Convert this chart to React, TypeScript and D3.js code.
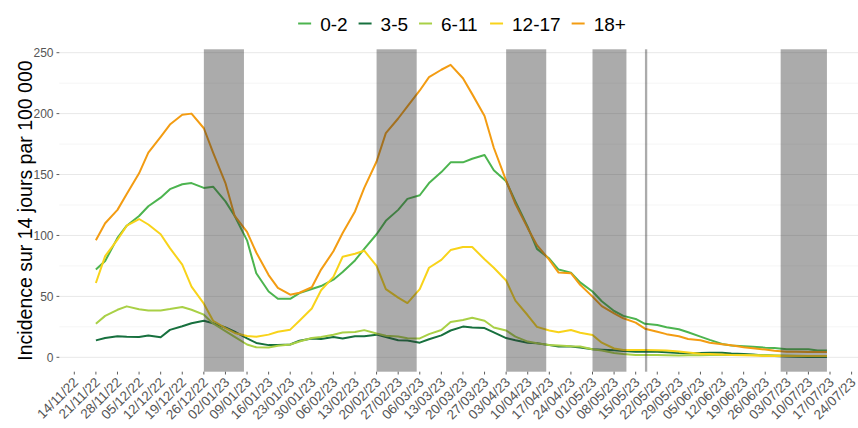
import React from "react";
import * as d3 from "d3";

const dates = [
  "2022-11-21","2022-11-24","2022-11-28","2022-12-01","2022-12-05","2022-12-08","2022-12-12","2022-12-15",
  "2022-12-19","2022-12-22","2022-12-26","2022-12-29","2023-01-02","2023-01-05","2023-01-09","2023-01-12",
  "2023-01-16","2023-01-19","2023-01-23","2023-01-26","2023-01-30","2023-02-02","2023-02-06","2023-02-09",
  "2023-02-13","2023-02-16","2023-02-20","2023-02-23","2023-02-27","2023-03-02","2023-03-06","2023-03-09",
  "2023-03-13","2023-03-16","2023-03-20","2023-03-23","2023-03-27","2023-03-30","2023-04-03","2023-04-06",
  "2023-04-10","2023-04-13","2023-04-17","2023-04-20","2023-04-24","2023-04-27","2023-05-01","2023-05-04",
  "2023-05-08","2023-05-11","2023-05-15","2023-05-18","2023-05-22","2023-05-25","2023-05-29","2023-06-01",
  "2023-06-05","2023-06-08","2023-06-12","2023-06-15","2023-06-19","2023-06-22","2023-06-26","2023-06-29",
  "2023-07-03","2023-07-06","2023-07-10","2023-07-13","2023-07-16"
];

const age0_2 = [
  72,79,98,108,116,124,131,138,142,143,139,140,128,116,96,69,
  54,48,48,52.7,56,58.5,63.7,70,79.5,89,101,112,121,130,133,143,
  152,160,160,163,166,153.5,144.5,128,107,89,81,72,69.5,61.5,54,46,
  38,34,31.5,27.5,26.5,24.6,23,20.5,17,14.3,11,9.7,9,8.6,7.9,7.6,
  6.6,6.6,6.6,5.5,5.5
];
const age3_5 = [
  13.9,15.8,17.2,16.8,16.7,17.8,16.5,22.5,25.5,28,30,28,24.5,21,15.5,11.8,
  10,10,10.5,13.6,15.5,15,16.7,15.5,17.2,17.2,18.6,16.7,14,13.7,12,14.8,
  18,22,25.2,24.4,24,20.4,15.8,14,12,11.5,10,8.8,8.8,8,6.6,6.2,
  5.8,5.2,4.6,4.6,4.6,4.2,3.5,3.3,3.5,3.8,3.8,3.2,2.7,2.2,1.5,1,
  0.6,0.4,0.3,0.2,0.2
];
const age6_11 = [
  27.6,34,39,41.8,39.5,38.5,38.5,39.6,41.3,39,35,27.8,21.5,16.8,10.5,8.2,
  8,9.4,10.5,13,15.8,16.7,18.5,20.3,20.8,22.3,19.5,17.7,17,15.6,15.5,19,
  22.4,29,30.6,32.4,30,24.5,22,17,12.9,11.5,10.1,9.6,9,8.8,6.6,5.5,
  3.5,2.7,1.9,1.9,1.8,1.6,1.5,1.6,1.6,1.8,1.9,1.9,1.9,1.9,1.8,1.6,
  1.4,1.2,1.0,1.0,1.0
];
const age12_17 = [
  61,83,96.5,108,113.5,109,101,89.6,76,58,44,30,24,20,17.5,16.8,
  18.6,21,22.7,30,40,55,66,82.5,85,87.5,75,56,49,44.5,56,73.5,
  80,88,90.5,90.5,80.5,73.5,63,46.5,34.5,25,22,20.5,22.4,20.2,18.3,12,
  7.2,6,6,6,5.8,5.5,4.8,4,3,2.7,2.4,1.9,1.6,1.4,1.1,1.1,
  1.1,1.1,1.1,1.1,1.1
];
const age18p = [
  96,110,121,134,151,168,181,191,199,200,188,168,143,116,103,86,
  67.5,57,51.4,53,57.5,72,87,102,119.7,139,160.7,184,196,206,219,230,
  236,240,229,216,198,172,145,126,106,92,80,69.5,69,59.5,49.8,42,
  36,32,28.5,23.5,21,19,17.3,15,14,12,10.8,9.8,8.3,7.4,6.4,5.4,
  4.6,4.5,4.4,4.4,4.4
];

const seriesNames = ["0-2", "3-5", "6-11", "12-17", "18+"];
const seriesValues = [age0_2, age3_5, age6_11, age12_17, age18p];
const seriesColors = ["#4cb44f", "#17703e", "#a9d046", "#f8d31a", "#f39c12"];

const holidayStarts = ["2022-12-26", "2023-02-20", "2023-04-03", "2023-05-01", "2023-05-18", "2023-07-01"];
const holidayEnds = ["2023-01-08", "2023-03-05", "2023-04-16", "2023-05-12", "2023-05-18T18:00", "2023-07-16"];

const yTicks = [0, 50, 100, 150, 200, 250];
const yMinor = [25, 75, 125, 175, 225];
const tickFirst = "2022-11-14";
const tickLast = "2023-07-24";

const yTitle = "Incidence sur 14 jours par 100 000";

const W = 858, H = 428;
const FONT = "'Liberation Sans', Arial, Helvetica, sans-serif";

const parse = (s: string) => new Date(s.length > 10 ? s + "Z" : s + "T00:00:00Z");

export default function App() {
  const panelTop = 49.3, panelBottom = 371.7, panelLeft = 59.3, panelRight = 858;
  const x = d3.scaleUtc().domain([parse(tickFirst), parse(tickLast)]).range([74.3, 851.6]);
  const y = d3.scaleLinear().domain([0, 250]).range([357.3, 52.7]);
  const parsedDates = dates.map(parse);
  const tickDates = d3.utcMonday.range(parse(tickFirst), d3.utcDay.offset(parse(tickLast), 1));
  const fmt = d3.utcFormat("%d/%m/%y");

  const line = d3.line<number>()
    .x((_, i) => x(parsedDates[i]))
    .y((v) => y(v));

  // legend layout
  const fs = 19;
  const cw: Record<string, number> = { "-": 0.333, "+": 0.584 };
  const tw = (s: string) => s.split("").reduce((a, c) => a + (cw[c] ?? 0.556) * fs, 0);
  const keyLen = 13, gapKT = 9, gapItem = 11;
  const totalW = seriesNames.reduce((a, s) => a + keyLen + gapKT + tw(s), 0) + gapItem * (seriesNames.length - 1);
  let cursor = 462 - totalW / 2;
  const legendItems = seriesNames.map((s, i) => {
    const item = { name: s, color: seriesColors[i], kx: cursor, tx: cursor + keyLen + gapKT };
    cursor += keyLen + gapKT + tw(s) + gapItem;
    return item;
  });

  return (
    <svg width={W} height={H} style={{ display: "block", position: "absolute", left: 0, top: 0, fontFamily: FONT }}>
      <rect x={0} y={0} width={W} height={H} fill="#ffffff" />
      {yMinor.map((v) => (
        <line key={"mi" + v} x1={panelLeft} x2={panelRight} y1={y(v)} y2={y(v)} stroke="#f2f2f2" strokeWidth={0.8} />
      ))}
      {yTicks.map((v) => (
        <line key={"ma" + v} x1={panelLeft} x2={panelRight} y1={y(v)} y2={y(v)} stroke="#e8e8e8" strokeWidth={1} />
      ))}
      {seriesValues.map((vals, i) => (
        <path key={seriesNames[i]} d={line(vals) || ""} fill="none" stroke={seriesColors[i]} strokeWidth={2} strokeLinejoin="round" />
      ))}
      {holidayStarts.map((s, i) => (
        <rect key={"h" + i} x={x(parse(s))} y={panelTop} width={x(parse(holidayEnds[i])) - x(parse(s))} height={panelBottom - panelTop} fill="#333333" fillOpacity={0.41} />
      ))}
      {yTicks.map((v) => (
        <g key={"yt" + v}>
          <line x1={56.5} x2={59.3} y1={y(v)} y2={y(v)} stroke="#333" strokeWidth={0.8} />
          <text x={53.5} y={y(v)} dy="0.35em" textAnchor="end" fontSize={12} fill="#555">{v}</text>
        </g>
      ))}
      <text transform={`translate(32,${(panelTop + panelBottom) / 2}) rotate(-90)`} textAnchor="middle" fontSize={19.5} fill="#000">{yTitle}</text>
      {tickDates.map((d) => (
        <g key={"xt" + d.getTime()}>
          <line x1={x(d)} x2={x(d)} y1={panelBottom} y2={panelBottom + 2.8} stroke="#333" strokeWidth={0.8} />
          <text transform={`translate(${x(d) - 2},${panelBottom + 4.5}) rotate(-45)`} textAnchor="end" dy="0.72em" fontSize={13.5} fill="#555">{fmt(d)}</text>
        </g>
      ))}
      {legendItems.map((it) => (
        <g key={"lg" + it.name}>
          <line x1={it.kx} x2={it.kx + keyLen} y1={23.5} y2={23.5} stroke={it.color} strokeWidth={2} />
          <text x={it.tx} y={30.5} fontSize={fs} fill="#000">{it.name}</text>
        </g>
      ))}
    </svg>
  );
}
